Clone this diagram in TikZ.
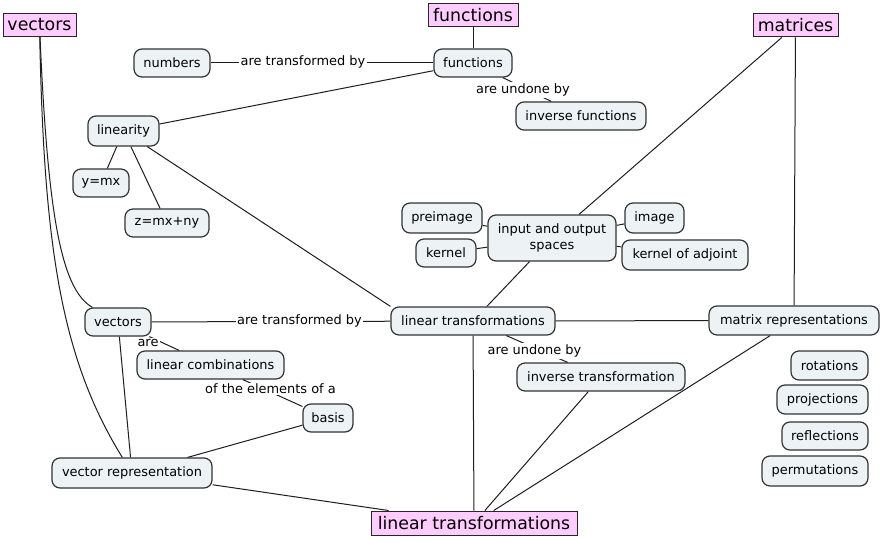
\documentclass[tikz,border=0pt]{standalone}
\usepackage{fontspec}
\setmainfont{DejaVu Sans}
\definecolor{conceptfill}{RGB}{237,243,245}
\definecolor{topicfill}{RGB}{255,204,255}
\definecolor{edgeline}{RGB}{30,30,30}
\begin{document}
\begin{tikzpicture}[x=0.75pt,y=-0.75pt,
  concept/.style={draw=black!80, line width=0.9pt, fill=conceptfill, rounded corners=6pt,
    minimum height=21pt, inner xsep=2pt, inner ysep=1pt, font=\fontsize{9.7}{12}\selectfont},
  topic/.style={draw=black!85, line width=0.75pt, fill=topicfill, minimum height=17.25pt,
    inner xsep=2pt, inner ysep=0pt, font=\fontsize{13}{15}\selectfont},
  phrase/.style={fill=white, inner sep=1pt, font=\fontsize{9.7}{12}\selectfont},
  bw/.style={minimum width=#1*0.75pt},
  bh/.style={minimum height=#1*0.75pt},
  link/.style={draw=edgeline, line width=0.75pt}
]
\useasboundingbox[fill=white] (0,0) rectangle (884,538);

% top-level topics
\node[topic, bw=73] (vecT) at (39.5,25) {vectors};
\node[topic, bw=90] (funT) at (473,15.5) {functions};
\node[topic, bw=85] (matT) at (795.5,25.5) {matrices};
\node[topic, bw=206, bh=24] (ltT) at (474,523) {linear transformations};

% concepts
\node[concept, bw=76] (num) at (172,63) {numbers};
\node[concept, bw=78] (fn) at (473,63) {functions};
\node[concept, bw=130] (invf) at (581,116) {inverse functions};
\node[concept, bw=71, bh=30] (lin) at (123.5,131) {linearity};
\node[concept, bw=56] (ymx) at (101,183) {y=mx};
\node[concept, bw=84] (zmx) at (167,223) {z=mx+ny};
\node[concept, bw=80, bh=30] (pre) at (442,218) {preimage};
\node[concept, bw=128, bh=46, align=center] (io) at (552,238) {input and output\\spaces};
\node[concept, bw=59, bh=30] (img) at (654.5,218) {image};
\node[concept, bw=60] (ker) at (446,253) {kernel};
\node[concept, bw=126, bh=30] (kadj) at (685,255) {kernel of adjoint};
\node[concept, bw=164] (lt) at (473,321) {linear transformations};
\node[concept, bw=170, bh=29] (mrep) at (794,320.5) {matrix representations};
\node[concept, bw=66] (vec) at (118,322) {vectors};
\node[concept, bw=147] (lc) at (210.5,365) {linear combinations};
\node[concept, bw=50] (basis) at (328,418) {basis};
\node[concept, bw=160, bh=30] (vrep) at (132,473) {vector representation};
\node[concept, bw=168] (invt) at (601,377) {inverse transformation};
\node[concept, bw=77, bh=29] (rot) at (829.5,365.5) {rotations};
\node[concept, bw=91, bh=29] (proj) at (822.5,399.5) {projections};
\node[concept, bw=86] (refl) at (825,436) {reflections};
\node[concept, bw=106, bh=30] (perm) at (815,471) {permutations};

% plain connectors
\draw[link] (vecT) .. controls (48,220) and (62,290) .. (vec);
\draw[link] (vecT) .. controls (44,250) and (62,360) .. (vrep);
\draw[link] (vec) -- (vrep);
\draw[link] (basis) -- (vrep);
\draw[link] (vrep) -- (ltT);
\draw[link] (lin) -- (ymx);
\draw[link] (lin) -- (zmx);
\draw[link] (lin) -- (fn);
\draw[link] (lin) -- (lt.north west);
\draw[link] (funT) -- (fn);
\draw[link] (matT) -- (io);
\draw[link] (matT) -- (mrep);
\draw[link] (io) -- (pre);
\draw[link] (io) -- (ker);
\draw[link] (io) -- (img);
\draw[link] (io) -- (kadj);
\draw[link] (io) -- (lt);
\draw[link] (lt) -- (mrep);
\draw[link] (lt) -- (ltT);
\draw[link] (invt) -- (ltT);
\draw[link] (mrep) -- (ltT);

% connectors carrying a linking phrase
\draw[link] (num) -- (fn);
\draw[link] (fn) -- (invf);
\draw[link] (vec) -- (lt);
\draw[link] (vec) -- (lc);
\draw[link] (lc) -- (basis);
\draw[link] (lt) -- (invt);

% linking phrases
\node[phrase] (p1) at (303,62) {are transformed by};
\node[phrase] (p2) at (523,90) {are undone by};
\node[phrase] (p3) at (299.5,321) {are transformed by};
\node[phrase] (p4) at (148,343) {are};
\node[phrase] (p5) at (270.5,389) {of the elements of a};
\node[phrase] (p6) at (534.5,351) {are undone by};
\end{tikzpicture}
\end{document}
